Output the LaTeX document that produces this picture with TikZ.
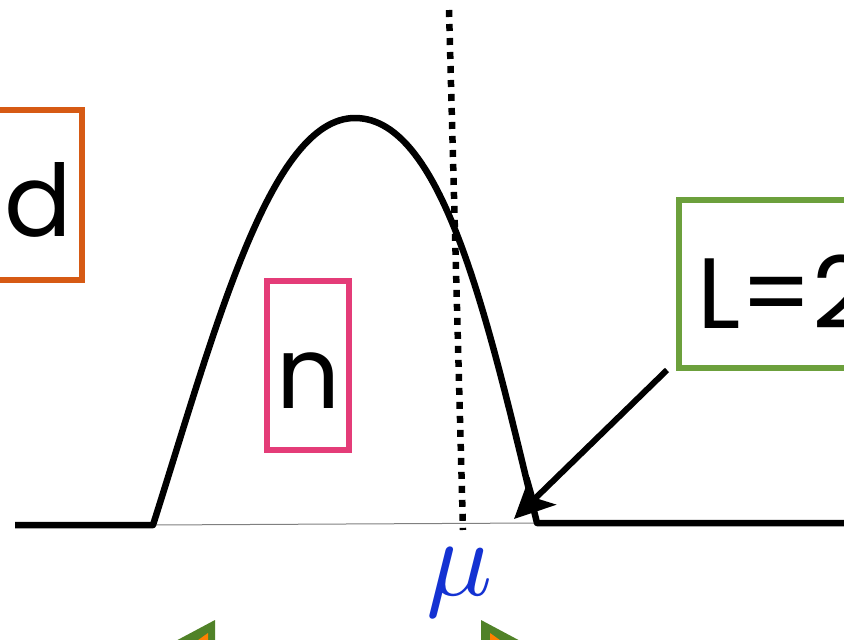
\documentclass[tikz,border=0pt]{standalone}
\usepackage{fontspec}
\setmainfont{Poppins}
\usetikzlibrary{arrows.meta}
\definecolor{borange}{RGB}{214,90,20}
\definecolor{bpink}{RGB}{228,60,120}
\definecolor{bgreen}{RGB}{108,160,60}
\definecolor{tgreen}{RGB}{80,130,40}
\definecolor{mublue}{RGB}{20,50,210}
\begin{document}
\begin{tikzpicture}[x=1pt,y=-1pt,
  box/.style={line width=6pt},
  thick line/.style={line width=6.5pt, line join=round},
  lbl/.style={font=\fontsize{100}{100}\selectfont, inner sep=0pt}]
\useasboundingbox (0,0) rectangle (844,640);
\begin{scope}
\clip (0,0) rectangle (844,640);
% baseline
\coordinate (b0) at (15,525);
\coordinate (b1) at (153,525);
\coordinate (pk) at (355,118);
\coordinate (b2) at (537,523);
\coordinate (b3) at (860,523);
\draw[gray, line width=1pt] (b1) -- (b2);
\draw[thick line] (b0) -- (b1) .. controls (215,330) and (270,118) .. (pk)
  .. controls (445,118) and (490,330) .. (b2) -- (b3);
% dotted line
\coordinate (d0) at (449,10);
\coordinate (d1) at (463,530);
\draw[line width=6.5pt, dash pattern=on 7pt off 7pt] (d0) -- (d1);
% orange box
\draw[box, borange] (-120,110) rectangle (82,280);
\node[lbl, anchor=base] (d) at (38,236) {d};
% pink box
\draw[box, bpink] (267,281) rectangle (349,450);
\node[lbl, anchor=base] (n) at (308,408) {n};
% green box
\draw[box, bgreen] (679,200) rectangle (900,368);
\node[lbl, anchor=base west] (L) at (697,328) {L=2};
% arrow
\coordinate (a0) at (667,370);
\coordinate (a1) at (514,519);
\draw[line width=6pt, -{Stealth[length=40pt,width=38pt,inset=10pt]}] (a0) -- (a1);
% mu
\node[text=mublue, scale=11, inner sep=0pt] (mu) at (460,583) {$\mu$};
% triangles at bottom
\fill[tgreen] (215,620) -- (140,660) -- (215,700) -- cycle;
\fill[orange] (208,633) -- (170,660) -- (208,690) -- cycle;
\fill[tgreen] (481,620) -- (556,660) -- (481,700) -- cycle;
\fill[orange] (490,633) -- (528,660) -- (490,690) -- cycle;
\end{scope}
\end{tikzpicture}
\end{document}
